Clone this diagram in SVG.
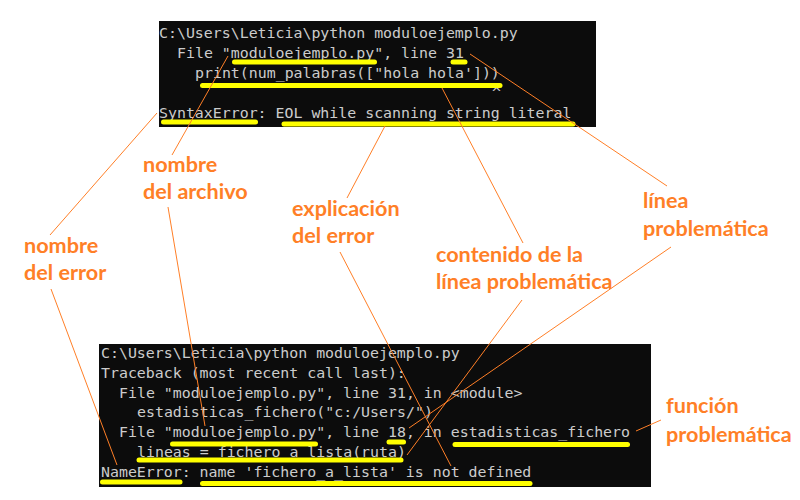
<svg xmlns="http://www.w3.org/2000/svg" width="800" height="500" viewBox="0 0 800 500">
<style>
.term{fill:#0c0c0c}
.code{font-family:"DejaVu Sans Mono","Liberation Mono",monospace;font-size:14.9px;fill:#cccccc}
.hl{stroke:#ffff00;stroke-width:5;stroke-linecap:round;fill:none}
.lbl{font-family:Lato,"Open Sans","Liberation Sans",sans-serif;font-weight:bold;font-size:21.6px;fill:#ff7f27}
.con{stroke:#ff7f27;stroke-width:1;fill:none}
</style>
<rect width="800" height="500" fill="#ffffff"/>

<g id="terminal-top">
<rect class="term" x="159" y="21" width="437" height="106"/>
<text class="code" x="159" y="38">C:\Users\Leticia\python moduloejemplo.py</text>
<text class="code" x="177" y="58">File "moduloejemplo.py", line 31</text>
<text class="code" x="195" y="78">print(num_palabras(["hola hola']))</text>
<text class="code" x="492" y="98">^</text>
<text class="code" x="159" y="118">SyntaxError: EOL while scanning string literal</text>
<line class="hl" x1="234.5" y1="62" x2="374.5" y2="62"/>
<line class="hl" x1="453" y1="62" x2="465" y2="62"/>
<line class="hl" x1="202.5" y1="85.5" x2="500" y2="85.5"/>
<line class="hl" x1="163.5" y1="122" x2="255.5" y2="122"/>
<line class="hl" x1="284" y1="124" x2="573" y2="124"/>
</g>

<g id="terminal-bottom">
<rect class="term" x="99" y="344" width="552" height="143"/>
<text class="code" x="101" y="358">C:\Users\Leticia\python moduloejemplo.py</text>
<text class="code" x="101" y="377.8">Traceback (most recent call last):</text>
<text class="code" x="119" y="397.6">File "moduloejemplo.py", line 31, in &lt;module&gt;</text>
<text class="code" x="137" y="417.4">estadisticas_fichero("c:/Users/")</text>
<text class="code" x="119" y="437.2">File "moduloejemplo.py", line 18, in estadisticas_fichero</text>
<text class="code" x="137" y="457">lineas = fichero_a_lista(ruta)</text>
<text class="code" x="101" y="476.8">NameError: name 'fichero_a_lista' is not defined</text>
<line class="hl" x1="172.5" y1="444" x2="315.5" y2="444"/>
<line class="hl" x1="139" y1="460" x2="401" y2="460"/>
<line class="hl" x1="389" y1="442" x2="403.5" y2="442"/>
<line class="hl" x1="455" y1="444.5" x2="627.5" y2="444.5"/>
<line class="hl" x1="102.5" y1="482" x2="180" y2="482"/>
<line class="hl" x1="202.5" y1="483.5" x2="530" y2="483.5"/>
</g>

<g id="label-nombre-archivo">
<text class="lbl" x="143" y="171.7">nombre</text>
<text class="lbl" x="143" y="199.2">del archivo</text>
</g>
<g id="label-nombre-error">
<text class="lbl" x="24" y="252.5">nombre</text>
<text class="lbl" x="24" y="280">del error</text>
</g>
<g id="label-explicacion">
<text class="lbl" x="292" y="215.5">explicación</text>
<text class="lbl" x="292" y="243">del error</text>
</g>
<g id="label-contenido">
<text class="lbl" x="436" y="261.7">contenido de la</text>
<text class="lbl" x="436" y="289.3">línea problemática</text>
</g>
<g id="label-linea">
<text class="lbl" x="643" y="208.3">línea</text>
<text class="lbl" x="643" y="235.7">problemática</text>
</g>
<g id="label-funcion">
<text class="lbl" x="666" y="413.3">función</text>
<text class="lbl" x="666" y="441.7">problemática</text>
</g>

<g id="connectors">
<line class="con" x1="157" y1="113" x2="50" y2="235"/>
<line class="con" x1="51" y1="289" x2="117" y2="465"/>
<line class="con" x1="228" y1="56" x2="172" y2="155"/>
<line class="con" x1="168" y1="207" x2="205" y2="426"/>
<line class="con" x1="385" y1="126" x2="347" y2="198"/>
<line class="con" x1="340" y1="252" x2="451" y2="466"/>
<line class="con" x1="442" y1="88" x2="523" y2="243"/>
<line class="con" x1="522" y1="300" x2="407" y2="455"/>
<line class="con" x1="470" y1="54" x2="667" y2="186"/>
<line class="con" x1="671" y1="247" x2="409" y2="428"/>
<line class="con" x1="636" y1="431" x2="661" y2="420"/>
</g>
</svg>
